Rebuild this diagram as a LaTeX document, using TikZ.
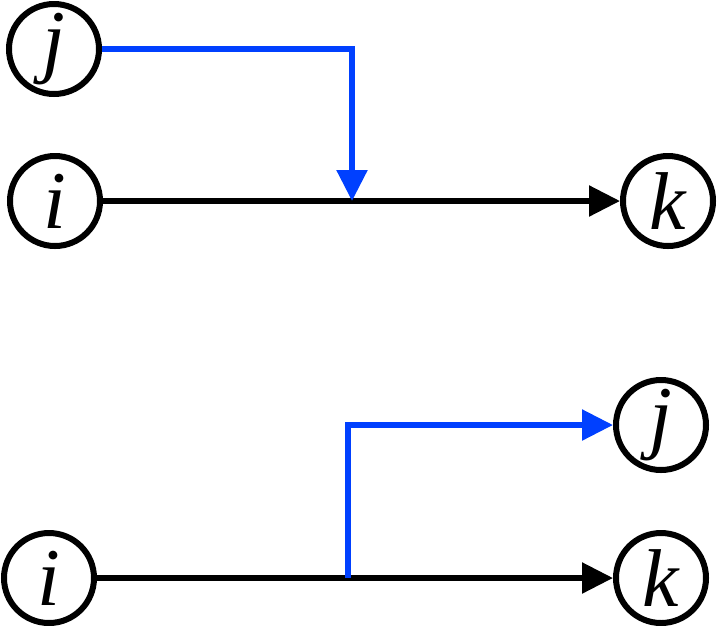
\documentclass[tikz,border=0pt]{standalone}
\usepackage{fontspec}
\setmainfont{Liberation Serif}
\usetikzlibrary{arrows.meta,positioning}
\definecolor{linkBlue}{HTML}{0040FF}

\begin{document}
\begin{tikzpicture}[
    x=1pt, y=-1pt,
    font=\fontsize{82}{90}\selectfont\itshape,
    vtx/.style={draw=black, circle, line width=6pt, minimum size=90pt,
                inner sep=0pt, fill=white},
    arr/.style={-{Triangle[length=31pt,width=30pt]}, line width=5.5pt, black},
    bluearr/.style={arr, linkBlue}
]
\useasboundingbox (0,0) rectangle (719,625);

% -- Top: j joins the link i -> k
\node[vtx] (jtop) at (54,49) {j};
\node[vtx] (itop) at (55,201) {i};
\node[vtx] (ktop) at (668,201) {k};
\coordinate (jointop) at (352,201);

\draw[arr] (itop) -- (ktop);
\draw[bluearr] (jtop.east) -| (jointop);

% -- Bottom: j leaves the link i -> k
\node[vtx] (jbot) at (661,425) {j};
\node[vtx] (ibot) at (49,578) {i};
\node[vtx] (kbot) at (661,578) {k};
\coordinate (splitbot) at (348,578);

\draw[arr] (ibot) -- (kbot);
\draw[bluearr] (splitbot) |- (jbot.west);

\end{tikzpicture}
\end{document}
